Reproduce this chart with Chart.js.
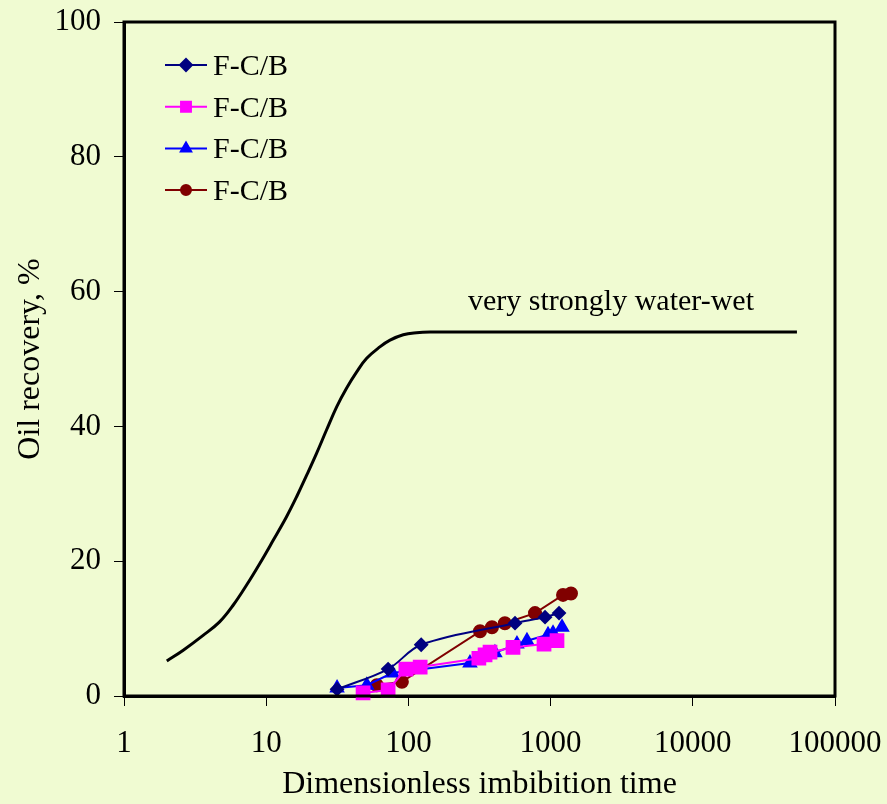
<!DOCTYPE html>
<html>
<head>
<meta charset="utf-8">
<script src="https://cdn.jsdelivr.net/npm/chart.js@4/dist/chart.umd.min.js"></script>
<style>
  html, body { margin: 0; padding: 0; background: #f0fbd2; }
  #wrap { width: 887px; height: 804px; }
</style>
</head>
<body>
<div id="wrap"><canvas id="myChart" width="887" height="804"></canvas></div>
<script>
// values
const xTicks = [1, 10, 100, 1000, 10000, 100000];
const yTicks = [0, 20, 40, 60, 80, 100];

const refTime = [2, 2.61, 3.6, 4.7, 5.87, 7.3, 9.04, 11.2, 13.9, 16.4, 19.3, 22.6, 26.6, 31.3, 36.8, 43.3, 50.9, 63, 74.3, 92, 114, 142, 300, 1000, 10000, 54000];
const refRecovery = [5.2, 6.8, 9.0, 11.0, 13.5, 16.5, 19.7, 23.1, 26.6, 29.6, 32.8, 36.0, 39.5, 42.9, 45.7, 48.1, 50.1, 51.8, 52.8, 53.6, 53.9, 54.0, 54.0, 54.0, 54.0, 54.0];

const navyTime = [31.5, 72, 123, 562, 914, 1146];
const navyRecovery = [1.0, 4.0, 7.6, 10.8, 11.7, 12.3];

const pinkTime = [48, 72, 96, 121, 313, 346, 375, 544, 899, 1109];
const pinkRecovery = [0.45, 0.9, 4.0, 4.3, 5.6, 6.1, 6.5, 7.2, 7.7, 8.2];

const blueTime = [31.5, 51, 77, 271, 406, 580, 682, 959, 1040, 1203];
const blueRecovery = [1.2, 1.6, 3.4, 4.9, 6.4, 7.7, 8.2, 9.1, 9.3, 10.2];

const redTime = [60, 90, 319, 387, 477, 777, 1223, 1391];
const redRecovery = [1.6, 2.1, 9.6, 10.2, 10.8, 12.3, 15.0, 15.2];

const seriesNames = ["F-C/B", "F-C/B", "F-C/B", "F-C/B"];

const pts = (xs, ys) => xs.map((x, i) => ({ x: x, y: ys[i] }));

const serif = "'Liberation Serif', 'Times New Roman', serif";

const frame = {
  id: "frame",
  afterDatasetsDraw(chart) {
    const { ctx, chartArea: a, scales } = chart;
    ctx.save();
    ctx.strokeStyle = "#000";
    ctx.lineWidth = 3;
    ctx.strokeRect(a.left, a.top, a.right - a.left, a.bottom - a.top);

    // curve label
    ctx.fillStyle = "#000";
    ctx.font = "30px " + serif;
    ctx.textAlign = "center";
    ctx.textBaseline = "alphabetic";
    ctx.fillText("very strongly water-wet", scales.x.getPixelForValue(2660), scales.y.getPixelForValue(57.3));

    // legend inside the plot
    ctx.textAlign = "left";
    ctx.textBaseline = "middle";
    ctx.font = "30px " + serif;
    const ds = chart.data.datasets.slice(1);
    ds.forEach((d, i) => {
      const y = 65 + i * 41.7;
      ctx.strokeStyle = d.borderColor;
      ctx.lineWidth = 2;
      ctx.beginPath();
      ctx.moveTo(165, y);
      ctx.lineTo(207, y);
      ctx.stroke();
      ctx.fillStyle = d.pointBackgroundColor;
      ctx.strokeStyle = d.pointBackgroundColor;
      Chart.helpers.drawPoint(ctx, { pointStyle: d.pointStyle, radius: d.legendRadius, borderWidth: 1 }, 186, y);
      ctx.fillStyle = "#000";
      ctx.fillText(seriesNames[i], 213, y + 2);
    });
    ctx.restore();
  }
};

const ctx = document.getElementById("myChart").getContext("2d");
const myChart = new Chart(ctx, {
  type: "line",
  data: {
    datasets: [
      {
        label: "very strongly water-wet",
        data: pts(refTime, refRecovery),
        borderColor: "#000",
        borderWidth: 3,
        pointRadius: 0,
        tension: 0.4,
      },
      {
        label: seriesNames[0],
        data: pts(navyTime, navyRecovery),
        borderColor: "#000080",
        pointBackgroundColor: "#000080",
        pointBorderColor: "#000080",
        pointStyle: "rectRot",
        pointRadius: 6,
        legendRadius: 6,
        borderWidth: 2,
        tension: 0.35,
        clip: false,
      },
      {
        label: seriesNames[1],
        data: pts(pinkTime, pinkRecovery),
        borderColor: "#ff00ff",
        pointBackgroundColor: "#ff00ff",
        pointBorderColor: "#ff00ff",
        pointStyle: "rect",
        pointRadius: 9,
        legendRadius: 7,
        borderWidth: 2,
        tension: 0,
        clip: false,
      },
      {
        label: seriesNames[2],
        data: pts(blueTime, blueRecovery),
        borderColor: "#0000ff",
        pointBackgroundColor: "#0000ff",
        pointBorderColor: "#0000ff",
        pointStyle: "triangle",
        pointRadius: 7,
        legendRadius: 6,
        borderWidth: 2,
        tension: 0,
        clip: false,
      },
      {
        label: seriesNames[3],
        data: pts(redTime, redRecovery),
        borderColor: "#800000",
        pointBackgroundColor: "#800000",
        pointBorderColor: "#800000",
        pointStyle: "circle",
        pointRadius: 6,
        legendRadius: 5,
        borderWidth: 2,
        tension: 0,
        clip: false,
      },
    ],
  },
  options: {
    responsive: false,
    animation: false,
    events: [],
    layout: { padding: { top: 22, right: 52, left: 0, bottom: 0 } },
    plugins: {
      legend: { display: false },
      tooltip: { enabled: false },
    },
    scales: {
      x: {
        type: "logarithmic",
        min: 1,
        max: 100000,
        afterBuildTicks(scale) {
          scale.ticks = xTicks.map((v) => ({ value: v }));
        },
        afterFit(scale) {
          scale.height = 108;
          scale.paddingLeft = 0;
          scale.paddingRight = 0;
        },
        ticks: {
          color: "#000",
          font: { family: serif, size: 31 },
          padding: 19,
          maxRotation: 0,
          callback: (v) => String(v),
        },
        grid: { drawOnChartArea: false, color: "#000", tickLength: 10, tickWidth: 1 },
        border: { color: "#000", width: 3 },
        title: {
          display: true,
          text: "Dimensionless imbibition time",
          color: "#000",
          font: { family: serif, size: 32 },
          padding: { top: 0, bottom: 0 },
        },
      },
      y: {
        min: 0,
        max: 100,
        afterBuildTicks(scale) {
          scale.ticks = yTicks.map((v) => ({ value: v }));
        },
        afterFit(scale) {
          scale.width = 124;
          scale.paddingTop = 0;
          scale.paddingBottom = 0;
        },
        ticks: {
          color: "#000",
          font: { family: serif, size: 31 },
          padding: 13,
        },
        grid: { drawOnChartArea: false, color: "#000", tickLength: 10, tickWidth: 1 },
        border: { color: "#000", width: 3 },
        title: {
          display: true,
          text: "Oil recovery, %",
          color: "#000",
          font: { family: serif, size: 32 },
          padding: { top: 11, bottom: 0 },
        },
      },
    },
  },
  plugins: [frame],
});
</script>
</body>
</html>
